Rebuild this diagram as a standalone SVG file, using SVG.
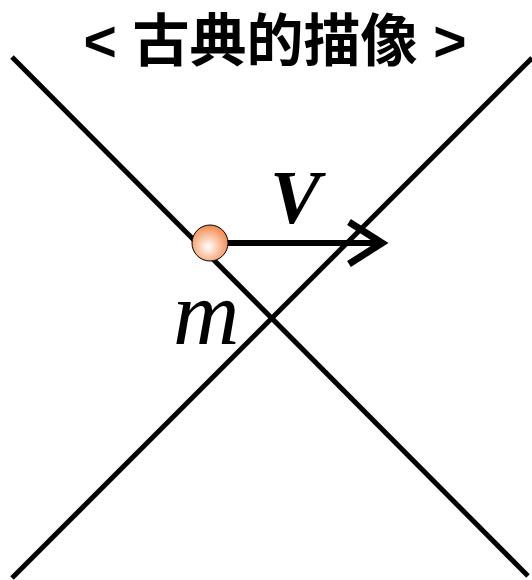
<svg xmlns="http://www.w3.org/2000/svg" width="532" height="580" viewBox="0 0 532 580">
<style>
.ln{stroke:#000;stroke-width:5;fill:none}
.title{font-family:"Liberation Sans","Noto Sans CJK JP",sans-serif;font-weight:bold;font-size:57px}
.var{font-family:"Liberation Serif",serif;font-style:italic}
</style>
<defs>
<radialGradient id="g" cx="0.45" cy="0.6" r="0.6">
<stop offset="0" stop-color="#fff"/>
<stop offset="1" stop-color="#f4874a"/>
</radialGradient>
</defs>
<rect width="532" height="580" fill="#fff"/>
<text class="title" x="275" y="61" text-anchor="middle">&lt; 古典的描像 &gt;</text>
<g id="connectors">
<line class="ln" x1="12" y1="57" x2="528" y2="576"/>
<line class="ln" x1="12" y1="578" x2="532" y2="58"/>
<g id="arrow">
<line x1="226" y1="243" x2="382" y2="243" stroke="#000" stroke-width="6"/>
<polyline points="349,222 382,243 349,264" fill="none" stroke="#000" stroke-width="7"/>
</g>
</g>
<g id="particle">
<circle cx="210" cy="243" r="18" fill="url(#g)" stroke="#000" stroke-width="1"/>
</g>
<text class="var" x="270" y="223" font-size="76" font-weight="bold">V</text>
<text class="var" x="173" y="344" font-size="92">m</text>
</svg>
